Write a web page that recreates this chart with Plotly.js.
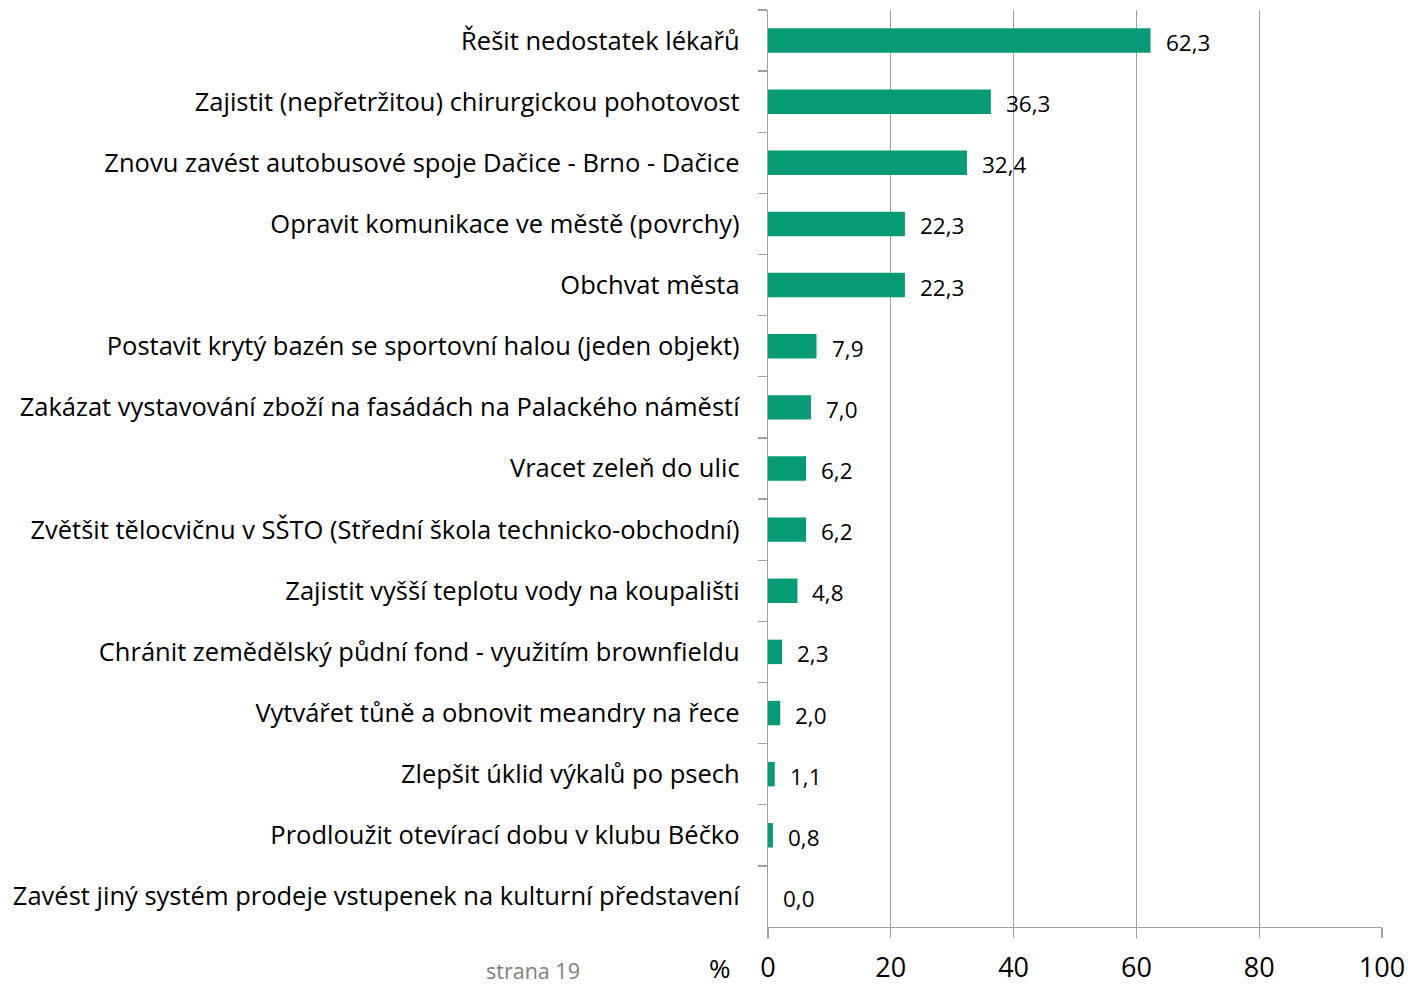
<!DOCTYPE html>
<html><head><meta charset="utf-8">
<script src="https://cdn.plot.ly/plotly-3.0.1.min.js"></script>
<style>html,body{margin:0;padding:0;background:#fff;}#chart{width:1408px;height:988px;}</style>
</head><body><div id="chart"></div>
<script>
const categories = [
  "Řešit nedostatek lékařů",
  "Zajistit (nepřetržitou) chirurgickou pohotovost",
  "Znovu zavést autobusové spoje Dačice - Brno - Dačice",
  "Opravit komunikace ve městě (povrchy)",
  "Obchvat města",
  "Postavit krytý bazén se sportovní halou (jeden objekt)",
  "Zakázat vystavování zboží na fasádách na Palackého náměstí",
  "Vracet zeleň do ulic",
  "Zvětšit tělocvičnu v SŠTO (Střední škola technicko-obchodní)",
  "Zajistit vyšší teplotu vody na koupališti",
  "Chránit zemědělský půdní fond - využitím brownfieldu",
  "Vytvářet tůně a obnovit meandry na řece",
  "Zlepšit úklid výkalů po psech",
  "Prodloužit otevírací dobu v klubu Béčko",
  "Zavést jiný systém prodeje vstupenek na kulturní představení"
];
const values = [62.3, 36.3, 32.4, 22.3, 22.3, 7.9, 7.0, 6.2, 6.2, 4.8, 2.3, 2.0, 1.1, 0.8, 0.0];
const xTicks = [0, 20, 40, 60, 80, 100];
const axisUnit = "%";
const footer = "strana 19";

const fmt = v => v.toFixed(1).replace('.', ',');
const FONT = "Open Sans, sans-serif";

const annotations = values.map((v, i) => ({
  x: v, y: categories[i], xref: 'x', yref: 'y',
  text: fmt(v), showarrow: false, xanchor: 'left', yanchor: 'middle',
  xshift: 13, yshift: -2, font: {family: FONT, size: 22.5, color: '#000'}
}));
annotations.push({
  xref: 'paper', yref: 'paper', x: 0, y: 0, xanchor: 'right', yanchor: 'top',
  xshift: -35, yshift: -21, text: axisUnit, showarrow: false,
  font: {family: FONT, size: 26, color: '#000'}
});
annotations.push({
  xref: 'paper', yref: 'paper', x: 0, y: 0, xanchor: 'center', yanchor: 'top',
  xshift: -235, yshift: -28, text: footer, showarrow: false, borderpad: 0,
  font: {family: FONT, size: 21.5, color: '#808080'}
});

const trace = {
  type: 'bar', orientation: 'h', x: values, y: categories,
  marker: {color: '#069B75'}, width: 0.4, hoverinfo: 'x+y'
};

const layout = {
  width: 1408, height: 988,
  margin: {l: 768, r: 26, t: 10, b: 61},
  paper_bgcolor: '#fff', plot_bgcolor: '#fff',
  showlegend: false,
  xaxis: {
    range: [0, 100], tickvals: xTicks, ticktext: xTicks.map(String),
    showgrid: true, gridcolor: '#A0A0A0', gridwidth: 1.3,
    zeroline: false, showline: true, linecolor: '#A0A0A0', linewidth: 1.3,
    ticks: 'outside', ticklen: 10, tickcolor: '#A0A0A0', tickwidth: 1.3,
    tickfont: {family: FONT, size: 27, color: '#000'}, ticklabelstandoff: 6
  },
  yaxis: {
    type: 'category', autorange: 'reversed',
    showline: true, linecolor: '#A0A0A0', linewidth: 1.3, showgrid: false,
    ticks: 'outside', ticklen: 9, tickcolor: '#A0A0A0', tickwidth: 1.3,
    tickson: 'boundaries',
    tickfont: {family: FONT, size: 25.5, color: '#000'}, ticklabelstandoff: 22
  },
  annotations: annotations
};

Plotly.newPlot('chart', [trace], layout, {displayModeBar: false, staticPlot: true});
</script>
</body></html>
